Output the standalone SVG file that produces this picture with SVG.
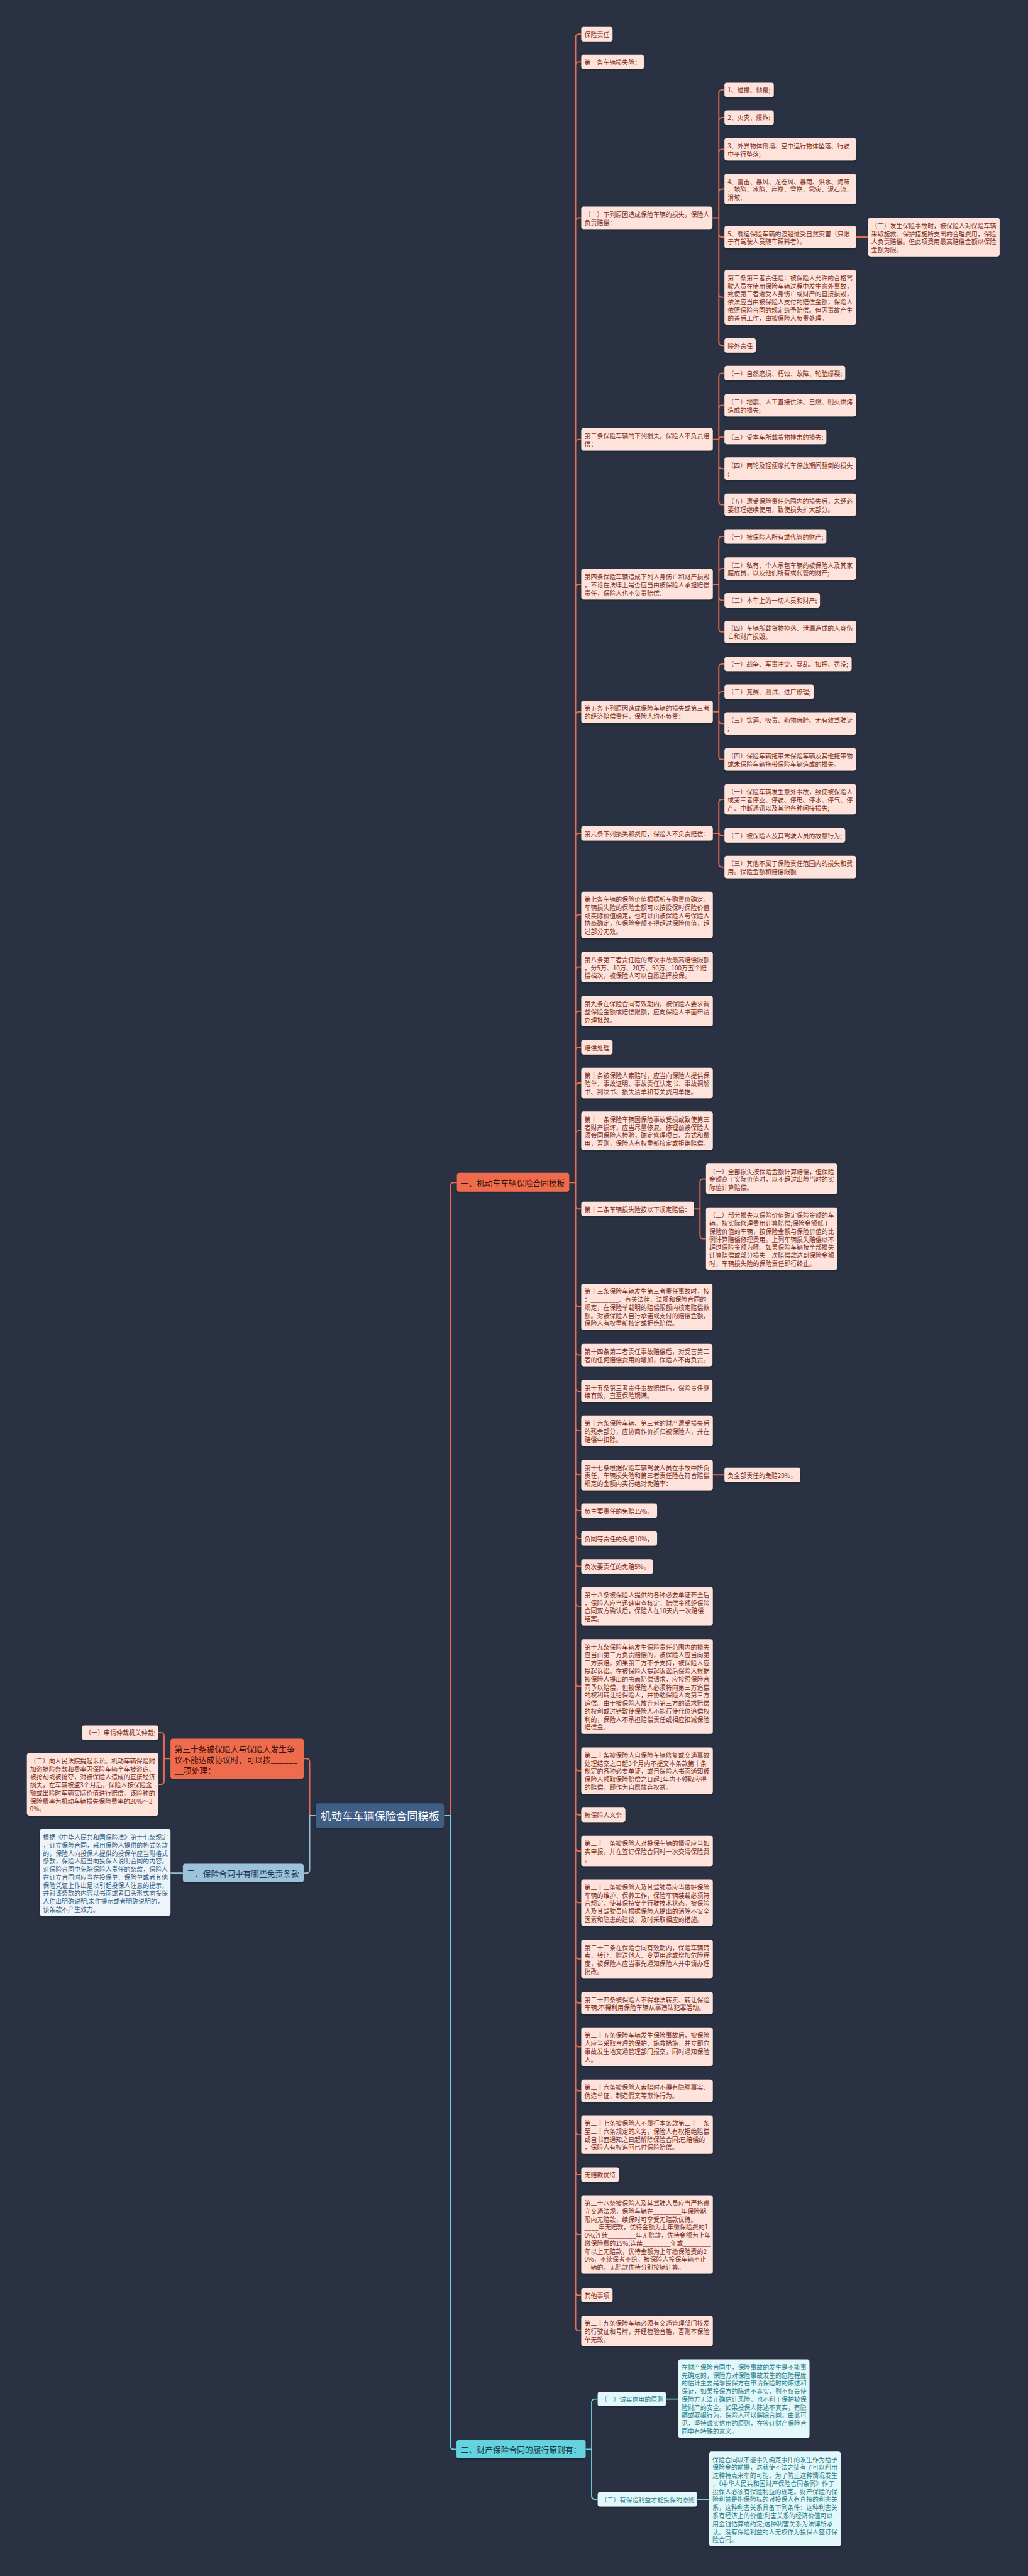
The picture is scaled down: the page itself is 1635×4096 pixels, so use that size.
<svg xmlns="http://www.w3.org/2000/svg" width="1635" height="4096" viewBox="0 0 1635 4096">
<defs>
<filter id="sh" x="-5%" y="-5%" width="110%" height="120%"><feDropShadow dx="0" dy="2" stdDeviation="1.5" flood-color="#0d121b" flood-opacity="0.45"/></filter>
<style>
text{font-family:"Noto Sans CJK SC","Noto Sans",sans-serif;dominant-baseline:central}
.lf rect{fill:#fde3db;filter:url(#sh)}
.lf text{fill:#7b2f1d;font-size:15.6px}
.lb rect{fill:#edf5fa;filter:url(#sh)}
.lb text{fill:#3b5f84;font-size:15.6px}
.lc rect{fill:#e2f8fa;filter:url(#sh)}
.lc text{fill:#2b8089;font-size:15.6px}
.root rect{fill:#3f5d84;filter:url(#sh)}
.root text{fill:#ffffff;font-size:27px;text-anchor:middle}
.bo rect{fill:#ee6c4d;filter:url(#sh)}
.bo text{fill:#3b1309;font-size:20px}
.bb rect{fill:#9cc3da;filter:url(#sh)}
.bb text{fill:#1e3a55;font-size:20px}
.bc rect{fill:#64d3df;filter:url(#sh)}
.bc text{fill:#163c45;font-size:20px}
.co{fill:none;stroke:#ee6c4d;stroke-width:3}
.cb{fill:none;stroke:#98c1d9;stroke-width:3}
.cc{fill:none;stroke:#6ad6e2;stroke-width:3}
</style>
</defs>
<rect x="0" y="0" width="1635" height="4096" fill="#293142"/>
<g transform="scale(0.638)">
<g id="connectors">
<path class="co" d="M1107 4525H1123V2955Q1123 2947 1131 2947H1139"/>
<path class="cc" d="M1107 4525H1123V6096Q1123 6104 1131 6104H1138"/>
<path class="co" d="M787 4525H772V4391Q772 4383 764 4383H757"/>
<path class="cb" d="M787 4525H772V4660Q772 4668 764 4668H757"/>
<path class="co" d="M425 4383H409V4326Q409 4318 401 4318H395M409 4383V4439Q409 4447 401 4447H395"/>
<path class="cb" d="M456 4668H425"/>
<path class="cc" d="M1460 6104H1475V5987Q1475 5979 1483 5979H1490M1475 6104V6221Q1475 6229 1483 6229H1490M1660 5979H1691M1738 6229H1768"/>
<path class="co" d="M1419 2947H1435M1435 93V5801
M1435 93Q1435 85 1443 85H1449M1435 162Q1435 154 1443 154H1449M1435 551Q1435 543 1443 543H1449M1435 1103Q1435 1095 1443 1095H1449M1435 1464Q1435 1456 1443 1456H1449M1435 1782Q1435 1774 1443 1774H1449M1435 2085Q1435 2077 1443 2077H1449M1435 2288Q1435 2280 1443 2280H1449M1435 2418Q1435 2410 1443 2410H1449M1435 2528Q1435 2520 1443 2520H1449M1435 2618Q1435 2610 1443 2610H1449M1435 2707Q1435 2699 1443 2699H1449M1435 2826Q1435 2818 1443 2818H1449
M1435 3005Q1435 3013 1443 3013H1449M1435 3249Q1435 3257 1443 3257H1449M1435 3369Q1435 3377 1443 3377H1449M1435 3459Q1435 3467 1443 3467H1449M1435 3558Q1435 3566 1443 3566H1449M1435 3668Q1435 3676 1443 3676H1449M1435 3757Q1435 3765 1443 3765H1449M1435 3826Q1435 3834 1443 3834H1449M1435 3896Q1435 3904 1443 3904H1449M1435 3995Q1435 4003 1443 4003H1449M1435 4195Q1435 4203 1443 4203H1449M1435 4405Q1435 4413 1443 4413H1449M1435 4515Q1435 4523 1443 4523H1449M1435 4605Q1435 4613 1443 4613H1449M1435 4734Q1435 4742 1443 4742H1449M1435 4874Q1435 4882 1443 4882H1449M1435 4984Q1435 4992 1443 4992H1449M1435 5093Q1435 5101 1443 5101H1449M1435 5203Q1435 5211 1443 5211H1449M1435 5312Q1435 5320 1443 5320H1449M1435 5412Q1435 5420 1443 5420H1449M1435 5561Q1435 5569 1443 5569H1449M1435 5712Q1435 5720 1443 5720H1449M1435 5801Q1435 5809 1443 5809H1449"/>
<path class="co" d="M1776 543H1792M1792 232V853M1792 232Q1792 224 1800 224H1806M1792 301Q1792 293 1800 293H1806M1792 380Q1792 372 1800 372H1806M1792 479Q1792 471 1800 471H1806M1792 583Q1792 591 1800 591H1806M1792 733Q1792 741 1800 741H1806M1792 853Q1792 861 1800 861H1806M2134 591H2164"/>
<path class="co" d="M1777 1095H1792M1792 938V1250M1792 938Q1792 930 1800 930H1806M1792 1018Q1792 1010 1800 1010H1806M1792 1097Q1792 1089 1800 1089H1806M1792 1160Q1792 1168 1800 1168H1806M1792 1250Q1792 1258 1800 1258H1806"/>
<path class="co" d="M1777 1456H1792M1792 1345V1567M1792 1345Q1792 1337 1800 1337H1806M1792 1425Q1792 1417 1800 1417H1806M1792 1488Q1792 1496 1800 1496H1806M1792 1567Q1792 1575 1800 1575H1806"/>
<path class="co" d="M1777 1774H1792M1792 1663V1885M1792 1663Q1792 1655 1800 1655H1806M1792 1732Q1792 1724 1800 1724H1806M1792 1795Q1792 1803 1800 1803H1806M1792 1885Q1792 1893 1800 1893H1806"/>
<path class="co" d="M1777 2077H1792M1792 2000V2153M1792 2000Q1792 1992 1800 1992H1806M1792 2074Q1792 2082 1800 2082H1806M1792 2153Q1792 2161 1800 2161H1806"/>
<path class="co" d="M1729 3013H1745M1745 2946V3079M1745 2946Q1745 2938 1753 2938H1760M1745 3079Q1745 3087 1753 3087H1760M1777 3676H1806"/>
</g>

<g id="root" class="root"><rect x="787" y="4494" width="320" height="62" rx="7"/><text x="947" y="4525">机动车车辆保险合同模板</text></g>

<g id="b1" class="bo"><rect x="1139" y="2923" width="280" height="47" rx="6"/><text x="1148" y="2947">一、机动车车辆保险合同模板</text></g>
<g id="b30" class="bo"><rect x="425" y="4333" width="332" height="100" rx="6"/><text x="435" y="4357"><tspan x="435">第三十条被保险人与保险人发生争</tspan><tspan x="435" dy="27">议不能达成协议时，可以按______</tspan><tspan x="435" dy="27">__项处理：</tspan></text></g>
<g id="b3" class="bb"><rect x="456" y="4645" width="301" height="46" rx="6"/><text x="466" y="4668">三、保险合同中有哪些免责条款</text></g>
<g id="b2" class="bc"><rect x="1138" y="6081" width="322" height="46" rx="6"/><text x="1149" y="6104">二、财产保险合同的履行原则有：</text></g>

<g id="n30a" class="lf"><rect x="204" y="4300" width="191" height="36" rx="6"/><text x="212" y="4318">（一）申请仲裁机关仲裁;</text></g>
<g id="n30b" class="lf"><rect x="67" y="4369" width="328" height="156" rx="6"/><text x="75" y="4387"><tspan x="75">（二）向人民法院提起诉讼。机动车辆保险附</tspan><tspan x="75" dy="20">加盗抢险条款和费率因保险车辆全车被盗窃、</tspan><tspan x="75" dy="20">被抢劫或被抢夺，对被保险人造成的直接经济</tspan><tspan x="75" dy="20">损失，在车辆被盗3个月后，保险人按保险金</tspan><tspan x="75" dy="20">额或出险时车辆实际价值进行赔偿。该险种的</tspan><tspan x="75" dy="20">保险费率为机动车辆损失保险费率的20%～3</tspan><tspan x="75" dy="20">0%。</tspan></text></g>
<g id="n3l" class="lb"><rect x="99" y="4559" width="326" height="216" rx="6"/><text x="107" y="4577"><tspan x="107">根据《中华人民共和国保险法》第十七条规定</tspan><tspan x="107" dy="20">，订立保险合同，采用保险人提供的格式条款</tspan><tspan x="107" dy="20">的，保险人向投保人提供的投保单应当附格式</tspan><tspan x="107" dy="20">条款，保险人应当向投保人说明合同的内容。</tspan><tspan x="107" dy="20">对保险合同中免除保险人责任的条款，保险人</tspan><tspan x="107" dy="20">在订立合同时应当在投保单、保险单或者其他</tspan><tspan x="107" dy="20">保险凭证上作出足以引起投保人注意的提示，</tspan><tspan x="107" dy="20">并对该条款的内容以书面或者口头形式向投保</tspan><tspan x="107" dy="20">人作出明确说明;未作提示或者明确说明的，</tspan><tspan x="107" dy="20">该条款不产生效力。</tspan></text></g>

<g id="n2a" class="lc"><rect x="1490" y="5961" width="170" height="36" rx="6"/><text x="1498" y="5979">（一）诚实信用的原则</text></g>
<g id="n2b" class="lc"><rect x="1490" y="6211" width="248" height="36" rx="6"/><text x="1498" y="6229">（二）有保险利益才能投保的原则</text></g>
<g id="n2a1" class="lc"><rect x="1691" y="5880" width="327" height="196" rx="6"/><text x="1699" y="5898"><tspan x="1699">在财产保险合同中，保险事故的发生是不能事</tspan><tspan x="1699" dy="20">先确定的，保险方对保险事故发生的危险程度</tspan><tspan x="1699" dy="20">的估计主要是靠投保方在申请保险时的陈述和</tspan><tspan x="1699" dy="20">保证，如果投保方的陈述不真实，则不仅会使</tspan><tspan x="1699" dy="20">保险方无法正确估计风险，也不利于保护被保</tspan><tspan x="1699" dy="20">险财产的安全。如果投保人陈述不真实，有隐</tspan><tspan x="1699" dy="20">瞒或欺骗行为，保险人可以解除合同。由此可</tspan><tspan x="1699" dy="20">见，坚持诚实信用的原则，在签订财产保险合</tspan><tspan x="1699" dy="20">同中有特殊的意义。</tspan></text></g>
<g id="n2b1" class="lc"><rect x="1768" y="6110" width="328" height="236" rx="6"/><text x="1776" y="6128"><tspan x="1776">保险合同以不能事先确定事件的发生作为给予</tspan><tspan x="1776" dy="20">保险金的前提，这就使不法之徒有了可以利用</tspan><tspan x="1776" dy="20">这种特点来牟的可能，为了防止这种情况发生</tspan><tspan x="1776" dy="20">，《中华人民共和国财产保险合同条例》作了</tspan><tspan x="1776" dy="20">投保人必须有保险利益的规定。财产保险的保</tspan><tspan x="1776" dy="20">险利益是指保险标的对投保人有直接的利害关</tspan><tspan x="1776" dy="20">系，这种利害关系具备下列条件：这种利害关</tspan><tspan x="1776" dy="20">系有经济上的价值;利害关系的经济价值可以</tspan><tspan x="1776" dy="20">用金钱估算或约定;这种利害关系为法律所承</tspan><tspan x="1776" dy="20">认。没有保险利益的人无权作为投保人签订保</tspan><tspan x="1776" dy="20">险合同。</tspan></text></g>

<g id="n1" class="lf"><rect x="1449" y="67" width="78" height="36" rx="6"/><text x="1457" y="85">保险责任</text></g>
<g id="n2" class="lf"><rect x="1449" y="136" width="156" height="36" rx="6"/><text x="1457" y="154">第一条车辆损失险：</text></g>
<g id="n3" class="lf"><rect x="1449" y="515" width="327" height="56" rx="6"/><text x="1457" y="533"><tspan x="1457">（一）下列原因造成保险车辆的损失，保险人</tspan><tspan x="1457" dy="20">负责赔偿：</tspan></text></g>
<g id="n3a" class="lf"><rect x="1806" y="206" width="123" height="36" rx="6"/><text x="1814" y="224">1、碰撞、倾覆;</text></g>
<g id="n3b" class="lf"><rect x="1806" y="275" width="123" height="36" rx="6"/><text x="1814" y="293">2、火灾、爆炸;</text></g>
<g id="n3c" class="lf"><rect x="1806" y="344" width="328" height="56" rx="6"/><text x="1814" y="362"><tspan x="1814">3、外界物体倒塌、空中运行物体坠落、行驶</tspan><tspan x="1814" dy="20">中平行坠落;</tspan></text></g>
<g id="n3d" class="lf"><rect x="1806" y="433" width="328" height="76" rx="6"/><text x="1814" y="451"><tspan x="1814">4、雷击、暴风、龙卷风、暴雨、洪水、海啸</tspan><tspan x="1814" dy="20">、地陷、冰陷、崖崩、雪崩、雹灾、泥石流、</tspan><tspan x="1814" dy="20">滑坡;</tspan></text></g>
<g id="n3e" class="lf"><rect x="1806" y="563" width="328" height="56" rx="6"/><text x="1814" y="581"><tspan x="1814">5、载运保险车辆的渡船遭受自然灾害（只限</tspan><tspan x="1814" dy="20">于有驾驶人员随车照料者）。</tspan></text></g>
<g id="n3e1" class="lf"><rect x="2164" y="543" width="328" height="96" rx="6"/><text x="2172" y="561"><tspan x="2172">（二）发生保险事故时，被保险人对保险车辆</tspan><tspan x="2172" dy="20">采取施救、保护措施所支出的合理费用，保险</tspan><tspan x="2172" dy="20">人负责赔偿。但此项费用最高赔偿金额以保险</tspan><tspan x="2172" dy="20">金额为限。</tspan></text></g>
<g id="n3f" class="lf"><rect x="1806" y="673" width="328" height="136" rx="6"/><text x="1814" y="691"><tspan x="1814">第二条第三者责任险：被保险人允许的合格驾</tspan><tspan x="1814" dy="20">驶人员在使用保险车辆过程中发生意外事故，</tspan><tspan x="1814" dy="20">致使第三者遭受人身伤亡或财产的直接损毁，</tspan><tspan x="1814" dy="20">依法应当由被保险人支付的赔偿金额，保险人</tspan><tspan x="1814" dy="20">依照保险合同的规定给予赔偿。但因事故产生</tspan><tspan x="1814" dy="20">的善后工作，由被保险人负责处理。</tspan></text></g>
<g id="n3g" class="lf"><rect x="1806" y="843" width="78" height="36" rx="6"/><text x="1814" y="861">除外责任</text></g>

<g id="n4" class="lf"><rect x="1449" y="1067" width="328" height="56" rx="6"/><text x="1457" y="1085"><tspan x="1457">第三条保险车辆的下列损失，保险人不负责赔</tspan><tspan x="1457" dy="20">偿：</tspan></text></g>
<g id="n4a" class="lf"><rect x="1806" y="912" width="301" height="36" rx="6"/><text x="1814" y="930">（一）自然磨损、朽蚀、故障、轮胎爆裂;</text></g>
<g id="n4b" class="lf"><rect x="1806" y="982" width="328" height="56" rx="6"/><text x="1814" y="1000"><tspan x="1814">（二）地震、人工直接供油、自燃、明火烘烤</tspan><tspan x="1814" dy="20">造成的损失;</tspan></text></g>
<g id="n4c" class="lf"><rect x="1806" y="1071" width="254" height="36" rx="6"/><text x="1814" y="1089">（三）受本车所载货物撞击的损失;</text></g>
<g id="n4d" class="lf"><rect x="1806" y="1140" width="328" height="56" rx="6"/><text x="1814" y="1158"><tspan x="1814">（四）两轮及轻便摩托车停放期间翻倒的损失</tspan><tspan x="1814" dy="20">;</tspan></text></g>
<g id="n4e" class="lf"><rect x="1806" y="1230" width="328" height="56" rx="6"/><text x="1814" y="1248"><tspan x="1814">（五）遭受保险责任范围内的损失后，未经必</tspan><tspan x="1814" dy="20">要修理继续使用，致使损失扩大部分。</tspan></text></g>

<g id="n5" class="lf"><rect x="1449" y="1418" width="328" height="76" rx="6"/><text x="1457" y="1436"><tspan x="1457">第四条保险车辆造成下列人身伤亡和财产损毁</tspan><tspan x="1457" dy="20">，不论在法律上是否应当由被保险人承担赔偿</tspan><tspan x="1457" dy="20">责任，保险人也不负责赔偿：</tspan></text></g>
<g id="n5a" class="lf"><rect x="1806" y="1319" width="254" height="36" rx="6"/><text x="1814" y="1337">（一）被保险人所有或代管的财产;</text></g>
<g id="n5b" class="lf"><rect x="1806" y="1389" width="328" height="56" rx="6"/><text x="1814" y="1407"><tspan x="1814">（二）私有、个人承包车辆的被保险人及其家</tspan><tspan x="1814" dy="20">庭成员，以及他们所有或代管的财产;</tspan></text></g>
<g id="n5c" class="lf"><rect x="1806" y="1478" width="238" height="36" rx="6"/><text x="1814" y="1496">（三）本车上的一切人员和财产;</text></g>
<g id="n5d" class="lf"><rect x="1806" y="1547" width="328" height="56" rx="6"/><text x="1814" y="1565"><tspan x="1814">（四）车辆所载货物掉落、泄漏造成的人身伤</tspan><tspan x="1814" dy="20">亡和财产损毁。</tspan></text></g>

<g id="n6" class="lf"><rect x="1449" y="1746" width="328" height="56" rx="6"/><text x="1457" y="1764"><tspan x="1457">第五条下列原因造成保险车辆的损失或第三者</tspan><tspan x="1457" dy="20">的经济赔偿责任，保险人均不负责：</tspan></text></g>
<g id="n6a" class="lf"><rect x="1806" y="1637" width="317" height="36" rx="6"/><text x="1814" y="1655">（一）战争、军事冲突、暴乱、扣押、罚没;</text></g>
<g id="n6b" class="lf"><rect x="1806" y="1706" width="223" height="36" rx="6"/><text x="1814" y="1724">（二）竞赛、测试、进厂修理;</text></g>
<g id="n6c" class="lf"><rect x="1806" y="1775" width="328" height="56" rx="6"/><text x="1814" y="1793"><tspan x="1814">（三）饮酒、吸毒、药物麻醉、无有效驾驶证</tspan><tspan x="1814" dy="20">;</tspan></text></g>
<g id="n6d" class="lf"><rect x="1806" y="1865" width="328" height="56" rx="6"/><text x="1814" y="1883"><tspan x="1814">（四）保险车辆拖带未保险车辆及其他拖带物</tspan><tspan x="1814" dy="20">或未保险车辆拖带保险车辆造成的损失。</tspan></text></g>

<g id="n7" class="lf"><rect x="1449" y="2059" width="328" height="36" rx="6"/><text x="1457" y="2077">第六条下列损失和费用，保险人不负责赔偿：</text></g>
<g id="n7a" class="lf"><rect x="1806" y="1954" width="328" height="76" rx="6"/><text x="1814" y="1972"><tspan x="1814">（一）保险车辆发生意外事故，致使被保险人</tspan><tspan x="1814" dy="20">或第三者停业、停驶、停电、停水、停气、停</tspan><tspan x="1814" dy="20">产、中断通讯以及其他各种间接损失;</tspan></text></g>
<g id="n7b" class="lf"><rect x="1806" y="2064" width="301" height="36" rx="6"/><text x="1814" y="2082">（二）被保险人及其驾驶人员的故意行为;</text></g>
<g id="n7c" class="lf"><rect x="1806" y="2133" width="328" height="56" rx="6"/><text x="1814" y="2151"><tspan x="1814">（三）其他不属于保险责任范围内的损失和费</tspan><tspan x="1814" dy="20">用。保险金额和赔偿限额</tspan></text></g>

<g id="n8" class="lf"><rect x="1449" y="2222" width="328" height="116" rx="6"/><text x="1457" y="2240"><tspan x="1457">第七条车辆的保险价值根据新车购置价确定。</tspan><tspan x="1457" dy="20">车辆损失险的保险金额可以按投保时保险价值</tspan><tspan x="1457" dy="20">或实际价值确定，也可以由被保险人与保险人</tspan><tspan x="1457" dy="20">协商确定，但保险金额不得超过保险价值，超</tspan><tspan x="1457" dy="20">过部分无效。</tspan></text></g>
<g id="n9" class="lf"><rect x="1449" y="2372" width="328" height="76" rx="6"/><text x="1457" y="2390"><tspan x="1457">第八条第三者责任险的每次事故最高赔偿限额</tspan><tspan x="1457" dy="20">，分5万、10万、20万、50万、100万五个赔</tspan><tspan x="1457" dy="20">偿档次，被保险人可以自愿选择投保。</tspan></text></g>
<g id="n10" class="lf"><rect x="1449" y="2482" width="328" height="76" rx="6"/><text x="1457" y="2500"><tspan x="1457">第九条在保险合同有效期内，被保险人要求调</tspan><tspan x="1457" dy="20">整保险金额或赔偿限额，应向保险人书面申请</tspan><tspan x="1457" dy="20">办理批改。</tspan></text></g>
<g id="n11" class="lf"><rect x="1449" y="2592" width="78" height="36" rx="6"/><text x="1457" y="2610">赔偿处理</text></g>
<g id="n12" class="lf"><rect x="1449" y="2661" width="328" height="76" rx="6"/><text x="1457" y="2679"><tspan x="1457">第十条被保险人索赔时，应当向保险人提供保</tspan><tspan x="1457" dy="20">险单、事故证明、事故责任认定书、事故调解</tspan><tspan x="1457" dy="20">书、判决书、损失清单和有关费用单据。</tspan></text></g>
<g id="n13" class="lf"><rect x="1449" y="2770" width="328" height="96" rx="6"/><text x="1457" y="2788"><tspan x="1457">第十一条保险车辆因保险事故受损或致使第三</tspan><tspan x="1457" dy="20">者财产损坏，应当尽量修复。修理前被保险人</tspan><tspan x="1457" dy="20">须会同保险人检验，确定修理项目、方式和费</tspan><tspan x="1457" dy="20">用，否则，保险人有权重新核定或拒绝赔偿。</tspan></text></g>
<g id="n14" class="lf"><rect x="1449" y="2995" width="281" height="36" rx="6"/><text x="1457" y="3013">第十二条车辆损失险按以下规定赔偿：</text></g>
<g id="n14a" class="lf"><rect x="1760" y="2900" width="327" height="76" rx="6"/><text x="1768" y="2918"><tspan x="1768">（一）全部损失按保险金额计算赔偿，但保险</tspan><tspan x="1768" dy="20">金额高于实际价值时，以不超过出险当时的实</tspan><tspan x="1768" dy="20">际值计算赔偿。</tspan></text></g>
<g id="n14b" class="lf"><rect x="1760" y="3009" width="327" height="156" rx="6"/><text x="1768" y="3027"><tspan x="1768">（二）部分损失以保险价值确定保险金额的车</tspan><tspan x="1768" dy="20">辆，按实际修理费用计算赔偿;保险金额低于</tspan><tspan x="1768" dy="20">保险价值的车辆，按保险金额与保险价值的比</tspan><tspan x="1768" dy="20">例计算赔偿修理费用。上列车辆损失赔偿以不</tspan><tspan x="1768" dy="20">超过保险金额为限。如果保险车辆按全部损失</tspan><tspan x="1768" dy="20">计算赔偿或部分损失一次赔偿款达到保险金额</tspan><tspan x="1768" dy="20">时，车辆损失险的保险责任即行终止。</tspan></text></g>
<g id="n15" class="lf"><rect x="1449" y="3199" width="327" height="116" rx="6"/><text x="1457" y="3217"><tspan x="1457">第十三条保险车辆发生第三者责任事故时，按</tspan><tspan x="1457" dy="20">：________、有关法律、法规和保险合同的</tspan><tspan x="1457" dy="20">规定，在保险单载明的赔偿限额内核定赔偿数</tspan><tspan x="1457" dy="20">额。对被保险人自行承诺或支付的赔偿金额，</tspan><tspan x="1457" dy="20">保险人有权重新核定或拒绝赔偿。</tspan></text></g>
<g id="n16" class="lf"><rect x="1449" y="3349" width="327" height="56" rx="6"/><text x="1457" y="3367"><tspan x="1457">第十四条第三者责任事故赔偿后，对受害第三</tspan><tspan x="1457" dy="20">者的任何赔偿费用的增加，保险人不再负责。</tspan></text></g>
<g id="n17" class="lf"><rect x="1449" y="3439" width="327" height="56" rx="6"/><text x="1457" y="3457"><tspan x="1457">第十五条第三者责任事故赔偿后，保险责任继</tspan><tspan x="1457" dy="20">续有效，直至保险期满。</tspan></text></g>
<g id="n18" class="lf"><rect x="1449" y="3528" width="328" height="76" rx="6"/><text x="1457" y="3546"><tspan x="1457">第十六条保险车辆、第三者的财产遭受损失后</tspan><tspan x="1457" dy="20">的残余部分，应协商作价折归被保险人，并在</tspan><tspan x="1457" dy="20">赔偿中扣除。</tspan></text></g>
<g id="n19" class="lf"><rect x="1449" y="3638" width="328" height="76" rx="6"/><text x="1457" y="3656"><tspan x="1457">第十七条根据保险车辆驾驶人员在事故中所负</tspan><tspan x="1457" dy="20">责任，车辆损失险和第三者责任险在符合赔偿</tspan><tspan x="1457" dy="20">规定的金额内实行绝对免赔率：</tspan></text></g>
<g id="n19a" class="lf"><rect x="1806" y="3658" width="189" height="36" rx="6"/><text x="1814" y="3676">负全部责任的免赔20%，</text></g>
<g id="n20" class="lf"><rect x="1449" y="3747" width="189" height="36" rx="6"/><text x="1457" y="3765">负主要责任的免赔15%，</text></g>
<g id="n21" class="lf"><rect x="1449" y="3816" width="189" height="36" rx="6"/><text x="1457" y="3834">负同等责任的免赔10%，</text></g>
<g id="n22" class="lf"><rect x="1449" y="3886" width="179" height="36" rx="6"/><text x="1457" y="3904">负次要责任的免赔5%。</text></g>
<g id="n23" class="lf"><rect x="1449" y="3955" width="328" height="96" rx="6"/><text x="1457" y="3973"><tspan x="1457">第十八条被保险人提供的各种必要单证齐全后</tspan><tspan x="1457" dy="20">，保险人应当迅速审查核定。赔偿金额经保险</tspan><tspan x="1457" dy="20">合同双方确认后，保险人在10天内一次赔偿</tspan><tspan x="1457" dy="20">结案。</tspan></text></g>
<g id="n24" class="lf"><rect x="1449" y="4085" width="328" height="236" rx="6"/><text x="1457" y="4103"><tspan x="1457">第十九条保险车辆发生保险责任范围内的损失</tspan><tspan x="1457" dy="20">应当由第三方负责赔偿的，被保险人应当向第</tspan><tspan x="1457" dy="20">三方索赔。如果第三方不予支持，被保险人应</tspan><tspan x="1457" dy="20">提起诉讼。在被保险人提起诉讼后保险人根据</tspan><tspan x="1457" dy="20">被保险人提出的书面赔偿请求，应按照保险合</tspan><tspan x="1457" dy="20">同予以赔偿，但被保险人必须将向第三方追偿</tspan><tspan x="1457" dy="20">的权利转让给保险人，并协助保险人向第三方</tspan><tspan x="1457" dy="20">追偿。由于被保险人放弃对第三方的请求赔偿</tspan><tspan x="1457" dy="20">的权利或过错致使保险人不能行使代位追偿权</tspan><tspan x="1457" dy="20">利的，保险人不承担赔偿责任或相应扣减保险</tspan><tspan x="1457" dy="20">赔偿金。</tspan></text></g>
<g id="n25" class="lf"><rect x="1449" y="4355" width="328" height="116" rx="6"/><text x="1457" y="4373"><tspan x="1457">第二十条被保险人自保险车辆修复或交通事故</tspan><tspan x="1457" dy="20">处理结案之日起3个月内不提交本条款第十条</tspan><tspan x="1457" dy="20">规定的各种必要单证，或自保险人书面通知被</tspan><tspan x="1457" dy="20">保险人领取保险赔偿之日起1年内不领取应得</tspan><tspan x="1457" dy="20">的赔偿，即作为自愿放弃权益。</tspan></text></g>
<g id="n26" class="lf"><rect x="1449" y="4505" width="110" height="36" rx="6"/><text x="1457" y="4523">被保险人义务</text></g>
<g id="n27" class="lf"><rect x="1449" y="4575" width="328" height="76" rx="6"/><text x="1457" y="4593"><tspan x="1457">第二十一条被保险人对投保车辆的情况应当如</tspan><tspan x="1457" dy="20">实申报，并在签订保险合同时一次交清保险费</tspan><tspan x="1457" dy="20">。</tspan></text></g>
<g id="n28" class="lf"><rect x="1449" y="4684" width="328" height="116" rx="6"/><text x="1457" y="4702"><tspan x="1457">第二十二条被保险人及其驾驶员应当做好保险</tspan><tspan x="1457" dy="20">车辆的维护、保养工作，保险车辆装载必须符</tspan><tspan x="1457" dy="20">合规定，使其保持安全行驶技术状态。被保险</tspan><tspan x="1457" dy="20">人及其驾驶员应根据保险人提出的消除不安全</tspan><tspan x="1457" dy="20">因素和隐患的建议，及时采取相应的措施。</tspan></text></g>
<g id="n29" class="lf"><rect x="1449" y="4834" width="328" height="96" rx="6"/><text x="1457" y="4852"><tspan x="1457">第二十三条在保险合同有效期内，保险车辆转</tspan><tspan x="1457" dy="20">卖、转让、赠送他人、变更用途或增加危险程</tspan><tspan x="1457" dy="20">度，被保险人应当事先通知保险人并申请办理</tspan><tspan x="1457" dy="20">批改。</tspan></text></g>
<g id="n30" class="lf"><rect x="1449" y="4964" width="328" height="56" rx="6"/><text x="1457" y="4982"><tspan x="1457">第二十四条被保险人不得非法转卖、转让保险</tspan><tspan x="1457" dy="20">车辆;不得利用保险车辆从事违法犯罪活动。</tspan></text></g>
<g id="n31" class="lf"><rect x="1449" y="5053" width="328" height="96" rx="6"/><text x="1457" y="5071"><tspan x="1457">第二十五条保险车辆发生保险事故后，被保险</tspan><tspan x="1457" dy="20">人应当采取合理的保护、施救措施，并立即向</tspan><tspan x="1457" dy="20">事故发生地交通管理部门报案，同时通知保险</tspan><tspan x="1457" dy="20">人。</tspan></text></g>
<g id="n32" class="lf"><rect x="1449" y="5183" width="328" height="56" rx="6"/><text x="1457" y="5201"><tspan x="1457">第二十六条被保险人索赔时不得有隐瞒事实、</tspan><tspan x="1457" dy="20">伪造单证、制造假案等欺诈行为。</tspan></text></g>
<g id="n33" class="lf"><rect x="1449" y="5272" width="328" height="96" rx="6"/><text x="1457" y="5290"><tspan x="1457">第二十七条被保险人不履行本条款第二十一条</tspan><tspan x="1457" dy="20">至二十六条规定的义务，保险人有权拒绝赔偿</tspan><tspan x="1457" dy="20">或自书面通知之日起解除保险合同;已赔偿的</tspan><tspan x="1457" dy="20">，保险人有权追回已付保险赔偿。</tspan></text></g>
<g id="n34" class="lf"><rect x="1449" y="5402" width="94" height="36" rx="6"/><text x="1457" y="5420">无赔款优待</text></g>
<g id="n35" class="lf"><rect x="1449" y="5471" width="328" height="196" rx="6"/><text x="1457" y="5489"><tspan x="1457">第二十八条被保险人及其驾驶人员应当严格遵</tspan><tspan x="1457" dy="20">守交通法规，保险车辆在________年保险期</tspan><tspan x="1457" dy="20">限内无赔款，续保时可享受无赔款优待。____</tspan><tspan x="1457" dy="20">____年无赔款，优待金额为上年缴保险费的1</tspan><tspan x="1457" dy="20">0%;连续________年无赔款，优待金额为上年</tspan><tspan x="1457" dy="20">缴保险费的15%;连续________年或________</tspan><tspan x="1457" dy="20">年以上无赔款，优待金额为上年缴保险费的2</tspan><tspan x="1457" dy="20">0%，不续保者不给。被保险人投保车辆不止</tspan><tspan x="1457" dy="20">一辆的，无赔款优待分别按辆计算。</tspan></text></g>
<g id="n36" class="lf"><rect x="1449" y="5702" width="78" height="36" rx="6"/><text x="1457" y="5720">其他事项</text></g>
<g id="n37" class="lf"><rect x="1449" y="5771" width="328" height="76" rx="6"/><text x="1457" y="5789"><tspan x="1457">第二十九条保险车辆必须有交通管理部门核发</tspan><tspan x="1457" dy="20">的行驶证和号牌，并经检验合格，否则本保险</tspan><tspan x="1457" dy="20">单无效。</tspan></text></g>
</g>
</svg>
